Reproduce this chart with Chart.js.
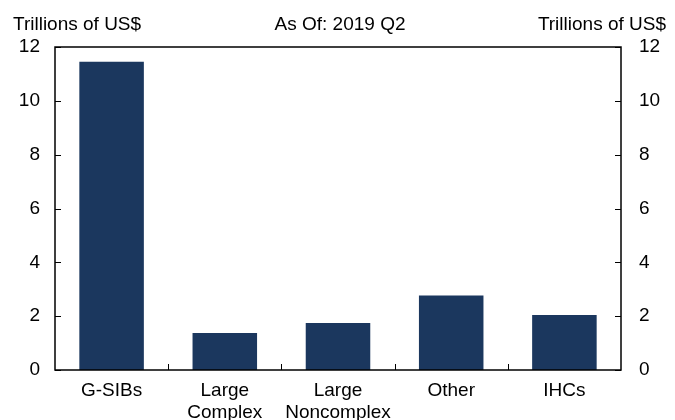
<!DOCTYPE html>
<html>
<head>
<meta charset="utf-8">
<script src="https://cdn.jsdelivr.net/npm/chart.js@4"></script>
<style>
html,body{margin:0;padding:0;background:#fff;}
#wrap{width:675px;height:420px;position:relative;}
</style>
</head>
<body>
<div id="wrap"><canvas id="c" width="675" height="420"></canvas></div>
<script>
const categories = [["G-SIBs"], ["Large", "Complex"], ["Large", "Noncomplex"], ["Other"], ["IHCs"]];
const values = [11.45, 1.37, 1.75, 2.77, 2.04];
const yTicks = [0, 2, 4, 6, 8, 10, 12];
const titleText = "As Of: 2019 Q2";
const unitText = "Trillions of US$";

const FONT = "'Liberation Sans', Arial, sans-serif";

const framePlugin = {
  id: 'frame',
  afterDraw(chart) {
    const ctx = chart.ctx;
    const a = chart.chartArea;
    const y = chart.scales.y;
    const x = chart.scales.x;
    ctx.save();
    ctx.strokeStyle = '#000';
    ctx.lineWidth = 1.5;
    ctx.strokeRect(a.left, a.top, a.right - a.left, a.bottom - a.top);
    ctx.lineWidth = 1;
    ctx.beginPath();
    yTicks.forEach(v => {
      const py = Math.round(y.getPixelForValue(v)) + 0.5;
      ctx.moveTo(a.left, py); ctx.lineTo(a.left + 6, py);
      ctx.moveTo(a.right, py); ctx.lineTo(a.right - 6, py);
    });
    for (let i = 1; i < categories.length; i++) {
      const px = Math.round((x.getPixelForValue(i - 1) + x.getPixelForValue(i)) / 2) + 0.5;
      ctx.moveTo(px, a.bottom); ctx.lineTo(px, a.bottom - 6);
    }
    ctx.stroke();
    ctx.fillStyle = '#000';
    ctx.font = '19px ' + FONT;
    ctx.textBaseline = 'alphabetic';
    ctx.textAlign = 'left';
    ctx.fillText(unitText, 13, 29.5);
    ctx.textAlign = 'right';
    ctx.fillText(unitText, 666, 29.5);
    ctx.textAlign = 'center';
    ctx.fillText(titleText, 340, 29.5);
    ctx.restore();
  }
};

new Chart(document.getElementById('c'), {
  type: 'bar',
  data: {
    labels: categories,
    datasets: [{
      data: values,
      backgroundColor: '#1b375e',
      borderWidth: 0,
      categoryPercentage: 1,
      barPercentage: 0.57
    }]
  },
  options: {
    responsive: false,
    animation: false,
    devicePixelRatio: 1,
    layout: { padding: { top: 47, bottom: 0, left: 0, right: 0 } },
    plugins: { legend: { display: false }, tooltip: { enabled: false }, title: { display: false } },
    scales: {
      x: {
        grid: { display: false, drawTicks: false },
        border: { display: false },
        ticks: { color: '#000', font: { family: FONT, size: 19, lineHeight: 1.2 }, padding: 9, maxRotation: 0, autoSkip: false },
        afterFit: s => { s.height = 50; }
      },
      y: {
        position: 'left',
        min: 0, max: 12,
        grid: { display: false, drawTicks: false },
        border: { display: false },
        ticks: { stepSize: 2, color: '#000', font: { family: FONT, size: 19 }, padding: 15 },
        afterFit: s => { s.width = 55; }
      },
      y2: {
        position: 'right',
        min: 0, max: 12,
        grid: { display: false, drawTicks: false },
        border: { display: false },
        ticks: { stepSize: 2, color: '#000', font: { family: FONT, size: 19 }, padding: 18 },
        afterFit: s => { s.width = 54; }
      }
    }
  },
  plugins: [framePlugin]
});
</script>
</body>
</html>
